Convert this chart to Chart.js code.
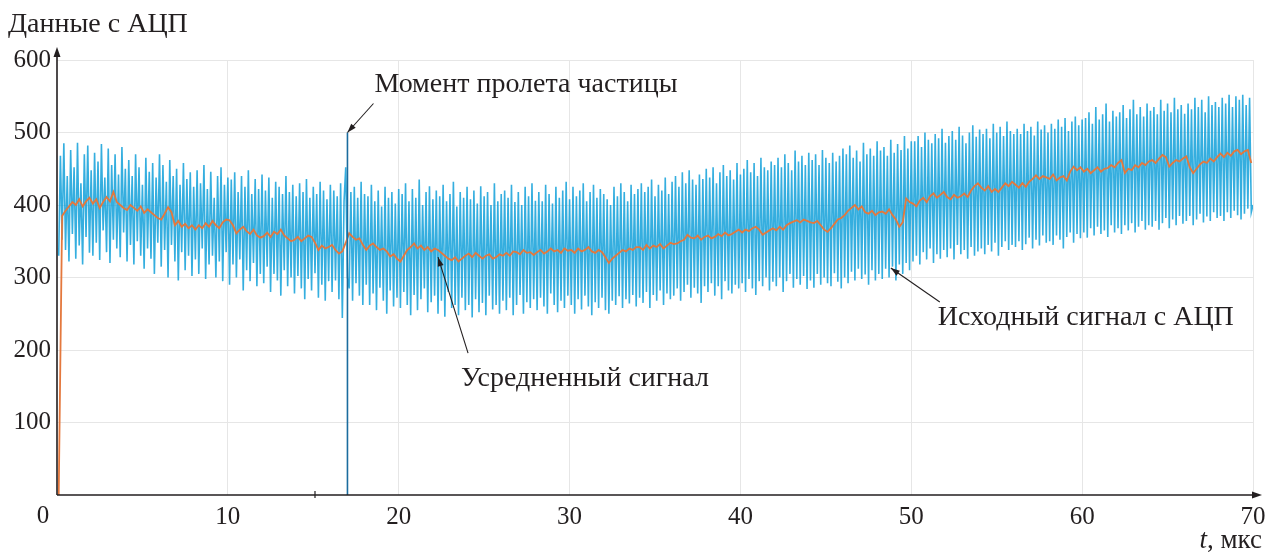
<!DOCTYPE html>
<html>
<head>
<meta charset="utf-8">
<script src="https://cdn.jsdelivr.net/npm/chart.js@4.4.1/dist/chart.umd.min.js"></script>
<style>
  html, body { margin: 0; padding: 0; background: #fff; }
  #wrap { width: 1268px; height: 555px; position: relative; }
</style>
</head>
<body>
<div id="wrap"><canvas id="adc"></canvas></div>
<script>
// raw ADC signal, one sample every 0.1 us starting at 0.1 us
const rawStart = 0.1, rawStep = 0.1;
const rawSignal = [
  330, 468, 352, 485, 338, 440, 322, 476, 360, 452, 326, 486, 344, 430, 318, 470, 356, 482, 334, 448,
  330, 472, 348, 460, 324, 484, 365, 438, 335, 478, 320, 455, 352, 470, 340, 442, 328, 480, 362, 450,
  322, 462, 345, 440, 318, 470, 350, 452, 330, 428, 312, 465, 340, 446, 326, 458, 305, 438, 348, 470,
  315, 455, 338, 432, 300, 462, 345, 440, 322, 450, 296, 428, 335, 458, 310, 436, 330, 445, 302, 425,
  325, 448, 305, 430, 340, 455, 298, 422, 318, 446, 330, 410, 300, 440, 322, 452, 295, 428, 335, 438,
  290, 435, 318, 445, 300, 418, 325, 440, 282, 425, 310, 448, 295, 415, 320, 436, 288, 422, 305, 442,
  292, 420, 315, 438, 280, 410, 305, 432, 296, 425, 275, 415, 310, 440, 288, 418, 300, 428, 278, 412,
  302, 430, 285, 418, 270, 436, 298, 410, 282, 425, 306, 415, 272, 432, 290, 420, 268, 408, 295, 428,
  280, 420, 296, 412, 270, 430, 244, 405, 452, 300, 285, 418, 268, 425, 292, 410, 275, 432, 262, 415,
  290, 412, 262, 428, 278, 405, 255, 420, 286, 398, 268, 425, 250, 410, 282, 418, 260, 402, 272, 422,
  258, 415, 280, 430, 262, 405, 248, 422, 276, 410, 255, 435, 270, 400, 285, 418, 252, 426, 266, 408,
  275, 420, 250, 412, 268, 428, 246, 405, 280, 415, 258, 432, 262, 398, 248, 418, 272, 410, 255, 425,
  262, 408, 245, 420, 270, 402, 252, 426, 265, 412, 248, 418, 275, 400, 256, 430, 262, 405, 250, 415,
  268, 420, 255, 410, 272, 428, 248, 404, 262, 418, 276, 400, 250, 425, 266, 412, 258, 430, 270, 406,
  255, 418, 272, 405, 260, 428, 250, 415, 278, 402, 262, 425, 252, 410, 268, 420, 258, 432, 275, 408,
  262, 425, 250, 412, 270, 420, 256, 430, 275, 405, 260, 418, 248, 428, 266, 410, 258, 422, 272, 415,
  255, 408, 250, 400, 268, 425, 262, 412, 274, 430, 258, 418, 270, 405, 264, 428, 276, 415, 260, 422,
  272, 430, 265, 418, 280, 425, 258, 435, 276, 412, 268, 428, 282, 420, 262, 438, 278, 415, 270, 432,
  275, 440, 285, 425, 268, 445, 280, 430, 290, 448, 272, 435, 286, 428, 278, 442, 265, 436, 288, 450,
  280, 438, 292, 452, 275, 430, 288, 445, 270, 455, 295, 440, 282, 448, 278, 435, 290, 458, 285, 442,
  292, 450, 280, 462, 298, 445, 285, 458, 276, 440, 295, 465, 288, 452, 300, 448, 282, 460, 294, 455,
  288, 465, 300, 452, 280, 470, 295, 458, 305, 448, 286, 475, 298, 460, 290, 468, 302, 455, 284, 472,
  296, 462, 286, 470, 305, 455, 290, 476, 300, 465, 292, 458, 288, 472, 306, 460, 294, 468, 285, 478,
  300, 470, 292, 482, 308, 465, 296, 475, 312, 460, 298, 486, 304, 470, 290, 478, 310, 468, 296, 488,
  305, 475, 298, 480, 312, 468, 300, 490, 315, 472, 296, 484, 318, 476, 305, 495, 320, 478, 310, 488,
  322, 488, 330, 495, 318, 480, 335, 500, 325, 490, 340, 485, 320, 498, 332, 492, 326, 505, 338, 486,
  328, 495, 340, 502, 325, 490, 345, 508, 332, 496, 338, 485, 326, 500, 342, 510, 330, 494, 336, 504,
  340, 498, 332, 505, 345, 492, 336, 512, 348, 500, 330, 508, 342, 495, 350, 515, 338, 502, 345, 498,
  342, 505, 350, 498, 338, 512, 346, 502, 355, 508, 340, 496, 352, 515, 344, 504, 358, 510, 348, 500,
  350, 512, 345, 505, 358, 518, 352, 508, 340, 520, 356, 502, 362, 515, 348, 522, 360, 510, 354, 518,
  362, 520, 355, 528, 368, 512, 358, 535, 370, 518, 360, 525, 365, 540, 356, 515, 372, 530, 362, 522,
  368, 528, 360, 538, 372, 520, 365, 532, 375, 545, 362, 525, 370, 535, 378, 522, 366, 540, 372, 530,
  370, 535, 378, 525, 366, 545, 375, 530, 382, 540, 368, 528, 380, 548, 372, 532, 385, 538, 374, 526,
  378, 540, 385, 532, 372, 548, 380, 535, 388, 545, 376, 528, 384, 550, 378, 538, 390, 542, 382, 535,
  385, 548, 378, 540, 390, 552, 382, 535, 392, 550, 386, 545, 380, 552, 388, 538, 395, 548, 390, 400
];

// averaged signal, one value every 0.2 us starting at 0.1 us
const avgStart = 0.1, avgStep = 0.2;
const avgSignal = [
  0, 385, 392, 398, 404, 400, 408, 398, 405, 410,
  402, 408, 396, 404, 411, 405, 418, 404, 400, 396,
  393, 400, 396, 392, 398, 389, 394, 390, 386, 382,
  380, 388, 397, 390, 372, 378, 370, 374, 368, 372,
  366, 372, 368, 375, 370, 378, 372, 368, 376, 380,
  379, 372, 361, 366, 370, 364, 360, 366, 358, 355,
  357, 362, 356, 363, 360, 366, 358, 354, 350, 352,
  356, 350, 354, 358, 356, 348, 338, 344, 340, 342,
  345, 338, 333, 336, 348, 361, 356, 352, 354, 345,
  338, 344, 347, 342, 338, 340, 336, 329, 332, 326,
  322, 330, 338, 342, 347, 340, 344, 338, 342, 336,
  340, 338, 334, 330, 326, 324, 328, 322, 326, 330,
  333, 328, 334, 330, 326, 330, 332, 326, 328, 332,
  330, 334, 330, 336, 335, 332, 338, 334, 335, 331,
  335, 338, 333, 336, 340, 336, 338, 334, 340, 337,
  338, 334, 340, 336, 338, 342, 336, 334, 338, 335,
  328, 320, 326, 330, 334, 338, 336, 340, 338, 342,
  342, 338, 345, 340, 344, 342, 346, 340, 344, 348,
  346, 347, 350, 352, 359, 355, 354, 358, 352, 356,
  358, 354, 356, 360, 357, 362, 358, 360, 363, 366,
  362, 366, 364, 368, 370, 366, 359, 362, 365, 368,
  365, 370, 366, 372, 375, 377, 379, 376, 380, 378,
  376, 375, 378, 372, 366, 363, 368, 374, 380, 382,
  386, 392, 396, 400, 394, 398, 390, 388, 392, 386,
  390, 391, 388, 394, 386, 380, 370, 376, 409, 404,
  402, 398, 406, 410, 404, 412, 416, 410, 414, 418,
  411, 408, 414, 410, 412, 416, 411, 420, 426, 430,
  424, 420, 426, 418, 422, 418, 424, 430, 426, 432,
  428, 424, 430, 425, 432, 436, 441, 436, 440, 438,
  436, 442, 434, 438, 440, 434, 446, 453, 448, 452,
  446, 450, 444, 448, 452, 446, 450, 451, 455, 452,
  458, 462, 444, 450, 448, 455, 452, 458, 455, 460,
  462, 458, 464, 469, 466, 453, 458, 462, 460, 464,
  467, 452, 444, 450, 456, 460, 458, 464, 460, 466,
  471, 466, 472, 468, 474, 476, 470, 474, 476, 458
];

// moment the particle passes
const pulseTime = [17, 17];
const pulseValue = [0, 500];

const xTicks = [10, 20, 30, 40, 50, 60, 70];
const yTicks = [100, 200, 300, 400, 500, 600];

const toPoints = (vals, t0, dt) => vals.map((v, i) => ({ x: +(t0 + i * dt).toFixed(2), y: v }));

const SERIF = '"Liberation Serif", "DejaVu Serif", serif';
const INK = '#231f20';

// annotation: tip in data coords, tail and text in pixel offsets from the tip
const notes = [
  { text: 'Момент пролета частицы', tip: [17, 500], tail: [26, -29], label: [27, -48] },
  { text: 'Усредненный сигнал', tip: [22.3, 328], tail: [30, 96], label: [23, 121] },
  { text: 'Исходный сигнал с АЦП', tip: [48.8, 313], tail: [49, 34], label: [47, 50] }
];

function arrowHead(ctx, x1, y1, x2, y2, len, half) {
  const a = Math.atan2(y2 - y1, x2 - x1);
  ctx.beginPath();
  ctx.moveTo(x2, y2);
  ctx.lineTo(x2 - len * Math.cos(a) + half * Math.sin(a), y2 - len * Math.sin(a) - half * Math.cos(a));
  ctx.lineTo(x2 - len * Math.cos(a) - half * Math.sin(a), y2 - len * Math.sin(a) + half * Math.cos(a));
  ctx.closePath();
  ctx.fill();
}

const decor = {
  id: 'decor',
  afterDraw(chart) {
    const { ctx, chartArea: a, scales: { x, y } } = chart;
    ctx.save();
    ctx.strokeStyle = INK;
    ctx.fillStyle = INK;
    ctx.lineWidth = 1.6;

    // axes with arrows
    ctx.beginPath();
    ctx.moveTo(a.left, a.bottom);
    ctx.lineTo(a.left, a.top - 10);
    ctx.moveTo(a.left, a.bottom);
    ctx.lineTo(a.right + 6, a.bottom);
    ctx.stroke();
    arrowHead(ctx, a.left, a.bottom, a.left, a.top - 13, 10, 3.5);
    arrowHead(ctx, a.left, a.bottom, a.right + 9, a.bottom, 10, 3.5);

    // stray tick at 15 us
    ctx.lineWidth = 1.2;
    const t15 = x.getPixelForValue(15.1);
    ctx.beginPath();
    ctx.moveTo(t15, a.bottom - 4);
    ctx.lineTo(t15, a.bottom + 3);
    ctx.stroke();

    // origin label, axis titles
    ctx.textBaseline = 'middle';
    ctx.font = '25px ' + SERIF;
    ctx.textAlign = 'center';
    ctx.fillText('0', a.left - 14, a.bottom + 21);
    ctx.font = '28px ' + SERIF;
    ctx.textAlign = 'left';
    ctx.fillText('Данные с АЦП', 8, 25);
    ctx.font = '27px ' + SERIF;
    ctx.textAlign = 'right';
    const unit = ', мкс';
    ctx.fillText(unit, 1262, 541);
    const uw = ctx.measureText(unit).width;
    ctx.font = 'italic 27px ' + SERIF;
    ctx.fillText('t', 1262 - uw, 541);

    // annotations
    ctx.font = '28px ' + SERIF;
    ctx.textAlign = 'left';
    ctx.lineWidth = 1.1;
    notes.forEach(n => {
      const px = x.getPixelForValue(n.tip[0]);
      const py = y.getPixelForValue(n.tip[1]);
      const tx = px + n.tail[0], ty = py + n.tail[1];
      ctx.beginPath();
      ctx.moveTo(tx, ty);
      ctx.lineTo(px, py);
      ctx.stroke();
      arrowHead(ctx, tx, ty, px, py, 9, 3);
      ctx.fillText(n.text, px + n.label[0], py + n.label[1]);
    });
    ctx.restore();
  }
};

new Chart(document.getElementById('adc'), {
  type: 'line',
  data: {
    datasets: [
      {
        label: 'Исходный сигнал с АЦП',
        data: toPoints(rawSignal, rawStart, rawStep),
        borderColor: 'rgba(8,156,216,0.82)',
        borderWidth: 1.6,
        pointRadius: 0,
        order: 3
      },
      {
        label: 'Усредненный сигнал',
        data: toPoints(avgSignal, avgStart, avgStep),
        borderColor: '#e4783d',
        borderWidth: 1.8,
        pointRadius: 0,
        order: 2
      },
      {
        label: 'Момент пролета частицы',
        data: pulseTime.map((t, i) => ({ x: t, y: pulseValue[i] })),
        borderColor: '#1b6c9e',
        borderWidth: 1.6,
        pointRadius: 0,
        order: 1
      }
    ]
  },
  options: {
    responsive: true,
    maintainAspectRatio: false,
    animation: false,
    layout: { padding: { top: 60, right: 15, left: 0, bottom: 0 } },
    plugins: { legend: { display: false }, tooltip: { enabled: false } },
    scales: {
      x: {
        type: 'linear',
        min: 0,
        max: 70,
        afterBuildTicks: s => { s.ticks = xTicks.map(v => ({ value: v })); },
        afterFit: s => { s.height = 60; s.paddingLeft = 0; s.paddingRight = 0; },
        ticks: { color: INK, font: { family: SERIF, size: 25 }, padding: 7, maxRotation: 0 },
        grid: { color: '#e6e6e6', drawTicks: false },
        border: { display: false }
      },
      y: {
        min: 0,
        max: 600,
        afterBuildTicks: s => { s.ticks = yTicks.map(v => ({ value: v })); },
        afterFit: s => { s.width = 57; s.paddingTop = 0; s.paddingBottom = 0; },
        ticks: { color: INK, font: { family: SERIF, size: 25 }, padding: 6 },
        grid: { color: '#e6e6e6', drawTicks: false },
        border: { display: false }
      }
    }
  },
  plugins: [decor]
});
</script>
</body>
</html>
